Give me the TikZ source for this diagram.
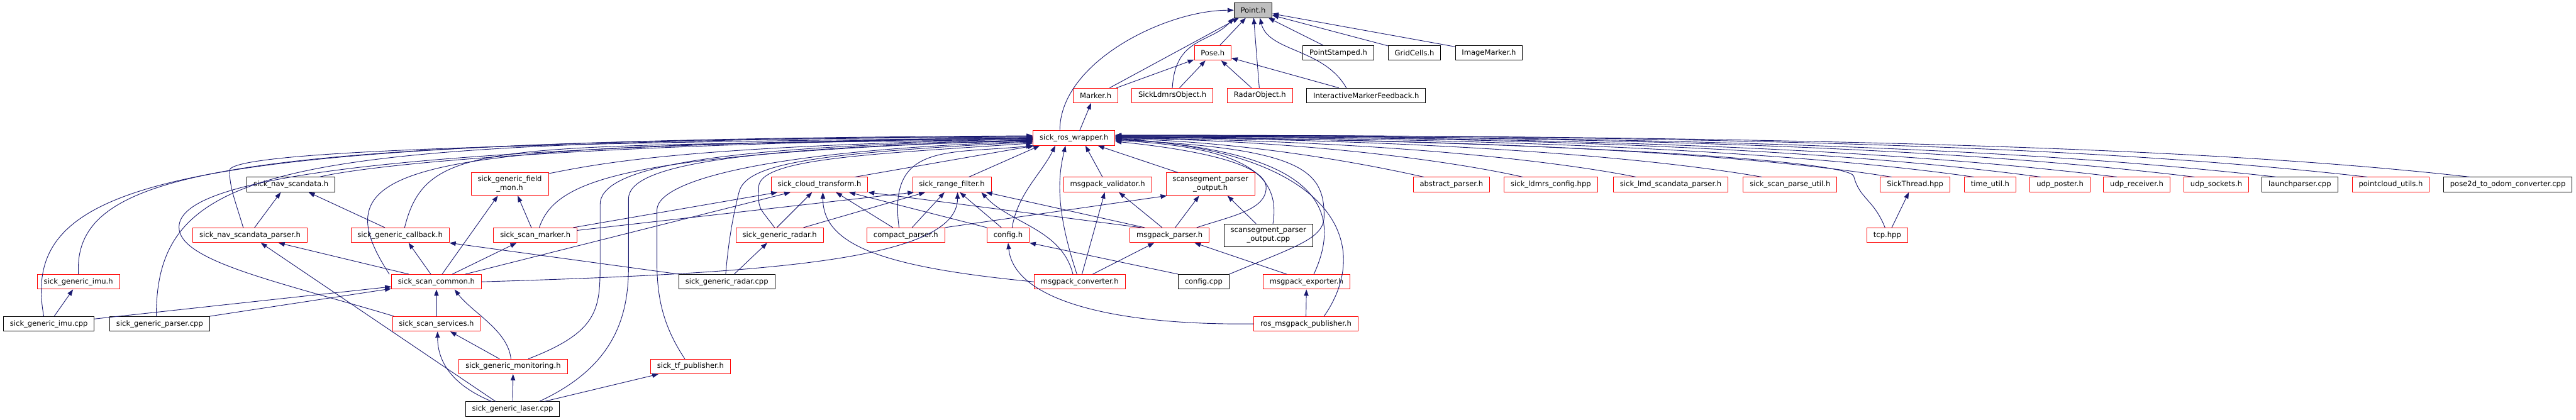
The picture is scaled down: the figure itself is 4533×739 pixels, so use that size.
\documentclass[tikz,border=0pt]{standalone}
\usepackage{fontspec}
\newfontfamily\doxfont{DejaVu Sans}
\usepackage{tikz}
\usetikzlibrary{arrows.meta}
\usepackage{xcolor}
\definecolor{edgeblue}{HTML}{191970}
\definecolor{rootgray}{HTML}{BFBFBF}

\begin{document}
\begin{tikzpicture}[x=1pt,y=1pt,>={Triangle[length=11pt,width=8pt]},line cap=round,
  hfile/.style={draw=red,fill=white,line width=1pt,font=\doxfont\fontsize{12.8}{15.4}\selectfont,
    inner xsep=11.5pt,inner ysep=2pt,minimum height=26pt,align=center},
  cfile/.style={hfile,draw=black},
  root/.style={hfile,draw=black,fill=rootgray},
  twoline/.style={minimum height=40pt},
  dep/.style={edgeblue,line width=1pt,->}]
\useasboundingbox (0,0) rectangle (4533,-739);
% top rows
\node[root] (point) at (2205,-18) {Point.h};
\node[hfile] (pose) at (2134,-93) {Pose.h};
\node[cfile] (pstamped) at (2355,-93) {PointStamped.h};
\node[cfile] (gridcells) at (2489,-93) {GridCells.h};
\node[cfile] (imgmarker) at (2620,-93) {ImageMarker.h};
\node[hfile] (marker) at (1928,-168) {Marker.h};
\node[hfile] (ldmrsobj) at (2063,-168) {SickLdmrsObject.h};
\node[hfile] (radarobj) at (2217,-168) {RadarObject.h};
\node[cfile] (imfeedback) at (2404,-168) {InteractiveMarkerFeedback.h};
\node[hfile] (wrapper) at (1890,-243) {sick\_ros\_wrapper.h};
% row 4
\node[cfile] (navdata) at (512,-325) {sick\_nav\_scandata.h};
\node[hfile,twoline] (fieldmon) at (897,-324) {sick\_generic\_field\\\_mon.h};
\node[hfile] (cloudtf) at (1442,-325) {sick\_cloud\_transform.h};
\node[hfile] (rangefilter) at (1675,-325) {sick\_range\_filter.h};
\node[hfile] (validator) at (1949,-325) {msgpack\_validator.h};
\node[hfile,twoline] (segouth) at (2130,-324) {scansegment\_parser\\\_output.h};
\node[hfile] (absparser) at (2554,-325) {abstract\_parser.h};
\node[hfile] (ldmrscfg) at (2729,-325) {sick\_ldmrs\_config.hpp};
\node[hfile] (lmdparser) at (2940,-325) {sick\_lmd\_scandata\_parser.h};
\node[hfile] (parseutil) at (3150,-325) {sick\_scan\_parse\_util.h};
\node[hfile] (sickthread) at (3370,-325) {SickThread.hpp};
\node[hfile] (timeutil) at (3502,-325) {time\_util.h};
\node[hfile] (udpposter) at (3625,-325) {udp\_poster.h};
\node[hfile] (udprecv) at (3760,-325) {udp\_receiver.h};
\node[hfile] (udpsock) at (3900,-325) {udp\_sockets.h};
\node[cfile] (launchparser) at (4047,-325) {launchparser.cpp};
\node[hfile] (pcutils) at (4207,-325) {pointcloud\_utils.h};
\node[cfile] (pose2d) at (4413,-325) {pose2d\_to\_odom\_converter.cpp};
% row 5
\node[hfile] (navparser) at (440,-414) {sick\_nav\_scandata\_parser.h};
\node[hfile] (callback) at (704,-414) {sick\_generic\_callback.h};
\node[hfile] (scanmarker) at (942,-414) {sick\_scan\_marker.h};
\node[hfile] (radarh) at (1372,-414) {sick\_generic\_radar.h};
\node[hfile] (compact) at (1594,-414) {compact\_parser.h};
\node[hfile] (configh) at (1774,-414) {config.h};
\node[hfile] (mpparser) at (2058,-414) {msgpack\_parser.h};
\node[cfile,twoline] (segoutcpp) at (2232,-414) {scansegment\_parser\\\_output.cpp};
\node[hfile] (tcp) at (3321,-414) {tcp.hpp};
% row 6
\node[hfile] (imuh) at (138,-496) {sick\_generic\_imu.h};
\node[hfile] (common) at (768,-496) {sick\_scan\_common.h};
\node[cfile] (radarcpp) at (1279,-496) {sick\_generic\_radar.cpp};
\node[hfile] (converter) at (1900,-496) {msgpack\_converter.h};
\node[cfile] (configcpp) at (2118,-496) {config.cpp};
\node[hfile] (exporter) at (2299,-496) {msgpack\_exporter.h};
% rows 7 to 9
\node[cfile] (imucpp) at (86,-570) {sick\_generic\_imu.cpp};
\node[cfile] (parsercpp) at (281,-570) {sick\_generic\_parser.cpp};
\node[hfile] (services) at (768,-570) {sick\_scan\_services.h};
\node[hfile] (rospub) at (2298,-570) {ros\_msgpack\_publisher.h};
\node[hfile] (monitoring) at (903,-645) {sick\_generic\_monitoring.h};
\node[hfile] (tfpub) at (1215,-645) {sick\_tf\_publisher.h};
\node[cfile] (laser) at (902,-720) {sick\_generic\_laser.cpp};

% Point.h and Pose.h
\draw[dep] (pose) -- (point);
\draw[dep] (pstamped) -- (point);
\draw[dep] (gridcells) -- (point);
\draw[dep] (imgmarker) -- (point);
\draw[dep] (marker) -- (point);
\draw[dep] (ldmrsobj.north) .. controls +(5,90) and +(-40,-45) .. ([xshift=-34]point.south);
\draw[dep] (radarobj) -- (point);
\draw[dep] ([xshift=-35]imfeedback.north) .. controls +(-40,70) and +(15,-60) .. ([xshift=12]point.south);
\draw[dep] ([xshift=-25]wrapper.north) .. controls +(0,120) and +(-120,0) .. (point.west);
\draw[dep] (marker) -- (pose);
\draw[dep] (ldmrsobj) -- (pose);
\draw[dep] (radarobj) -- (pose);
\draw[dep] (imfeedback) -- (pose);
\draw[dep] ([xshift=10]wrapper.north) -- ([xshift=-8]marker.south);

% into sick_ros_wrapper.h from the left
\draw[dep] ([xshift=-9]imucpp.north) .. controls +(-45,250) and +(-1500,-8) .. ([yshift=4]wrapper.west);
\draw[dep] (imuh.north) .. controls +(-10,190) and +(-1400,-8) .. ([yshift=3]wrapper.west);
\draw[dep] ([xshift=-6]parsercpp.north) .. controls +(0,280) and +(-1300,-8) .. ([yshift=2]wrapper.west);
\draw[dep] ([xshift=-75]services.north) .. controls +(-200,60) and +(0,-60) .. (315,-400)
  .. controls +(0,80) and +(-1200,-15) .. ([yshift=1]wrapper.west);
\draw[dep] ([xshift=-12]navparser.north) .. controls +(-15,50) and +(0,-30) .. (404,-300)
  .. controls +(0,30) and +(-1000,-8) .. (wrapper.west);
\draw[dep] ([xshift=50]navdata.north) .. controls +(60,15) and +(-900,-12) .. (wrapper.west);
\draw[dep] ([xshift=-83]common.north) .. controls +(-130,200) and +(-1100,-10) .. ([yshift=-1]wrapper.west);
\draw[dep] ([xshift=8]callback.north) .. controls +(40,160) and +(-950,-15) .. ([yshift=-2]wrapper.west);
\draw[dep] ([yshift=-2]fieldmon.north east) .. controls +(100,20) and +(-600,-12) .. ([yshift=-2]wrapper.west);
\draw[dep] ([xshift=7]scanmarker.north) .. controls +(30,90) and +(-700,-25) .. ([yshift=-3]wrapper.west);
\draw[dep] ([xshift=27]monitoring.north) .. controls +(130,50) and +(0,-90) .. (1056,-450) -- (1056,-360)
  .. controls +(0,60) and +(-600,-10) .. ([yshift=-4]wrapper.west);
\draw[dep] ([xshift=47]laser.north) .. controls +(130,60) and +(0,-90) .. (1106,-470) -- (1106,-350)
  .. controls +(0,55) and +(-550,-12) .. ([yshift=-5]wrapper.west);
\draw[dep] ([xshift=-10]tfpub.north) .. controls +(-40,60) and +(0,-60) .. (1156,-460) -- (1156,-370)
  .. controls +(0,55) and +(-450,-15) .. ([yshift=-6]wrapper.west);
\draw[dep] ([xshift=-2]radarcpp.north) .. controls +(5,60) and +(-10,-40) .. (1300,-340)
  .. controls +(10,50) and +(-400,-20) .. ([yshift=-7]wrapper.west);
\draw[dep] ([xshift=-9]radarh.north) .. controls +(-30,40) and +(0,-40) .. (1335,-330)
  .. controls +(0,50) and +(-300,-20) .. ([yshift=-9]wrapper.west);
\draw[dep] ([xshift=-23]cloudtf.north east) -- ([xshift=2]wrapper.south west);
% from below
\draw[dep] ([xshift=30]rangefilter.north) -- ([xshift=12]wrapper.south west);
\draw[dep] ([xshift=-12]compact.north) .. controls +(-20,150) and +(-150,-15) .. ([xshift=-1]wrapper.south west);
\draw[dep] ([xshift=7]configh.north) .. controls +(10,60) and +(-25,-50) .. ([xshift=-33]wrapper.south);
\draw[dep] ([xshift=-5]converter.north) .. controls +(-40,120) and +(-12,-50) .. ([xshift=-15]wrapper.south);
\draw[dep] ([xshift=-9]validator.north) -- ([xshift=20]wrapper.south);
\draw[dep] ([xshift=21]segouth.north west) -- ([xshift=42]wrapper.south);
% from the right
\draw[dep] ([xshift=48]mpparser.north) .. controls +(60,20) and +(0,-40) .. (2228,-330)
  .. controls +(0,40) and +(150,-15) .. ([yshift=-6]wrapper.east);
\draw[dep] ([xshift=8]segoutcpp.north) .. controls +(15,90) and +(220,-12) .. ([yshift=-4]wrapper.east);
\draw[dep] (configcpp.north east) .. controls +(120,50) and +(0,-40) .. (2330,-380)
  .. controls +(0,80) and +(330,-15) .. ([yshift=-3]wrapper.east);
\draw[dep] ([xshift=13]exporter.north) .. controls +(60,130) and +(330,-18) .. ([yshift=-2]wrapper.east);
\draw[dep] ([xshift=32]rospub.north) .. controls +(90,130) and +(380,-22) .. ([yshift=-1]wrapper.east);
\draw[dep] ([xshift=19]absparser.north west) .. controls +(-80,18) and +(250,-6) .. ([yshift=-1]wrapper.east);
\draw[dep] ([xshift=33]ldmrscfg.north west) .. controls +(-110,25) and +(350,-5) .. (wrapper.east);
\draw[dep] ([xshift=40]lmdparser.north west) .. controls +(-150,30) and +(450,-4) .. (wrapper.east);
\draw[dep] ([xshift=33]parseutil.north west) .. controls +(-200,35) and +(550,-3) .. ([yshift=1]wrapper.east);
\draw[dep] ([xshift=20]sickthread.north west) .. controls +(-250,40) and +(650,-2) .. ([yshift=1]wrapper.east);
\draw[dep] ([xshift=-4]tcp.north) .. controls +(-20,50) and +(10,-40) .. (3262,-310)
  .. controls +(-10,30) and +(700,-5) .. ([yshift=2]wrapper.east);
\draw[dep] ([xshift=17]timeutil.north west) .. controls +(-280,40) and +(750,-1) .. ([yshift=2]wrapper.east);
\draw[dep] ([xshift=19]udpposter.north west) .. controls +(-300,40) and +(850,0) .. ([yshift=3]wrapper.east);
\draw[dep] ([xshift=24]udprecv.north west) .. controls +(-330,40) and +(950,0) .. ([yshift=3]wrapper.east);
\draw[dep] ([xshift=19]udpsock.north west) .. controls +(-350,42) and +(1050,0) .. ([yshift=4]wrapper.east);
\draw[dep] ([xshift=26]launchparser.north west) .. controls +(-380,42) and +(1150,0) .. ([yshift=4]wrapper.east);
\draw[dep] ([xshift=27]pcutils.north west) .. controls +(-400,45) and +(1250,0) .. ([yshift=5]wrapper.east);
\draw[dep] ([xshift=47]pose2d.north west) .. controls +(-400,45) and +(1350,0) .. ([yshift=5]wrapper.east);

% the rest
\draw[dep] ([xshift=8]navparser.north) -- ([xshift=-18]navdata.south);
\draw[dep] ([xshift=-27]callback.north) -- ([xshift=31]navdata.south);
\draw[dep] ([xshift=-7]scanmarker.north) -- ([xshift=14]fieldmon.south);
\draw[dep] ([xshift=10]common.north) -- ([xshift=-21]fieldmon.south);
\draw[dep] ([xshift=-49]common.north) -- ([xshift=50]navparser.south);
\draw[dep] ([xshift=-30]laser.north) -- ([xshift=19]navparser.south);
\draw[dep] ([xshift=-10]common.north) -- ([xshift=15]callback.south);
\draw[dep] (radarcpp.north west) -- (callback.south east);
\draw[dep] ([xshift=28]common.north) -- ([xshift=-33]scanmarker.south);
\draw[dep] ([xshift=51]common.north) -- ([xshift=-51]cloudtf.south);
\draw[dep] ([xshift=-7]scanmarker.north east) -- ([xshift=-74]cloudtf.south);
\draw[dep] ([yshift=-5]scanmarker.north east) -- ([xshift=3]rangefilter.south west);
\draw[dep] (common.east) .. controls +(500,15) and +(0,-120) .. ([xshift=10]rangefilter.south);
\draw[dep] ([xshift=-5]radarh.north) -- ([xshift=-13]cloudtf.south);
\draw[dep] ([xshift=42]radarh.north) -- ([xshift=-47]rangefilter.south);
\draw[dep] ([xshift=13]radarcpp.north) -- ([xshift=-22]radarh.south);
\draw[dep] (converter.west) .. controls +(-270,26) and +(0,-92) .. ([xshift=6]cloudtf.south);
\draw[dep] ([xshift=-23]compact.north) -- ([xshift=29]cloudtf.south);
\draw[dep] ([xshift=11]compact.north) -- ([xshift=-13]rangefilter.south);
\draw[dep] (compact.north east) -- ([xshift=2]segouth.south west);
\draw[dep] (configh.north west) -- ([xshift=52]cloudtf.south);
\draw[dep] ([xshift=-12]configh.north) -- ([xshift=14]rangefilter.south);
\draw[dep] ([xshift=20]mpparser.north west) -- (cloudtf.south east);
\draw[dep] ([xshift=26]mpparser.north west) -- ([xshift=60]rangefilter.south);
\draw[dep] ([xshift=-13]mpparser.north) -- ([xshift=20]validator.south);
\draw[dep] ([xshift=10]mpparser.north) -- ([xshift=-20]segouth.south);
\draw[dep] ([xshift=-12]converter.north) .. controls +(-20,80) and +(50,-55) .. ([xshift=52]rangefilter.south);
\draw[dep] ([xshift=4]converter.north) -- ([xshift=-5]validator.south);
\draw[dep] ([xshift=23]converter.north) -- ([xshift=-27]mpparser.south);
\draw[dep] ([xshift=-22]segoutcpp.north) -- ([xshift=30]segouth.south);
\draw[dep] (configcpp.north west) -- (configh.south east);
\draw[dep] (rospub.west) .. controls +(-250,-3) and +(10,-100) .. (configh.south);
\draw[dep] ([xshift=-35]exporter.north) -- ([xshift=44]mpparser.south);
\draw[dep] (rospub) -- (exporter);
\draw[dep] (imucpp) -- (imuh);
\draw[dep] (imucpp) -- (common);
\draw[dep] (parsercpp) -- (common);
\draw[dep] (services) -- (common);
\draw[dep] (monitoring) -- (services);
\draw[dep] ([xshift=-4]monitoring.north) .. controls +(-5,50) and +(30,-40) .. ([xshift=32]common.south);
\draw[dep] ([xshift=-37]laser.north) .. controls +(-65,27) and +(0,-57) .. ([xshift=2]services.south);
\draw[dep] (laser) -- (monitoring);
\draw[dep] (laser) -- (tfpub);
\draw[dep] ([xshift=8]tcp.north) -- ([xshift=-11]sickthread.south);
\end{tikzpicture}
\end{document}
